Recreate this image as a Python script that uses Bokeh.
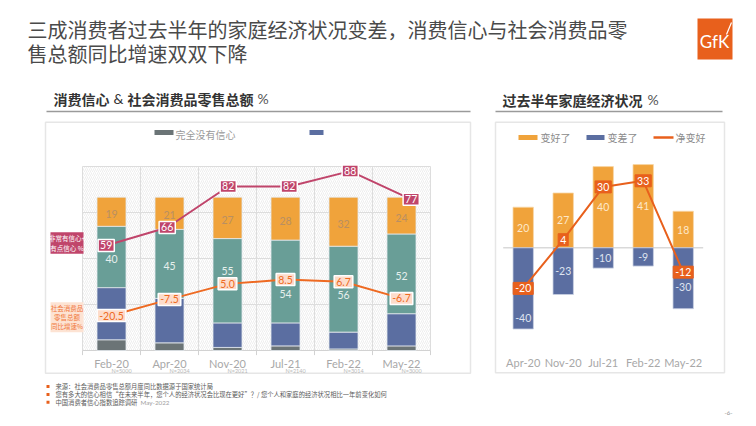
from bokeh.plotting import figure
from bokeh.models import Range1d, ColumnDataSource
from bokeh.core.properties import value
from bokeh.embed import file_html
from bokeh.resources import INLINE

# ---------------- data ----------------
title_lines = ["三成消费者过去半年的家庭经济状况变差，消费信心与社会消费品零",
               "售总额同比增速双双下降"]

left_months = ["Feb-20", "Apr-20", "Nov-20", "Jul-21", "Feb-22", "May-22"]
sample_sizes = ["N=5000", "N=2034", "N=2021", "N=2140", "N=3014", "N=3000"]
no_confidence = [7, 5, 2, 3, 1, 3]          # 完全没有信心
little_confidence = [34, 29, 16, 15, 11, 21]  # 不太有信心
some_confidence = [40, 45, 55, 54, 56, 52]    # 有点信心
very_confidence = [19, 21, 27, 28, 32, 24]    # 非常有信心
confidence_total = [59, 66, 82, 82, 88, 77]   # 非常有信心+有点信心 %
retail_growth = [-20.5, -7.5, 5.0, 8.5, 6.7, -6.7]  # 社会消费品零售总额同比增速 %
left_grid_ticks = [30, 60, 90, 120]

right_months = ["Apr-20", "Nov-20", "Jul-21", "Feb-22", "May-22"]
got_better = [20, 27, 40, 41, 18]
got_worse = [-40, -23, -10, -9, -30]
net_better = [-20, 4, 30, 33, -12]

footnotes = ["来源：社会消费品零售总额月度同比数据源于国家统计局",
             "您有多大的信心相信“在未来半年，您个人的经济状况会比现在更好”？/ 您个人和家庭的经济状况相比一年前变化如何",
             "中国消费者信心指数追踪调研"]

# ---------------- style ----------------
CJK = "Noto Sans CJK SC"
LAT = "Lato"
GREY_BAR = "#6b7476"
BLUE = "#5b6ea1"
TEAL = "#699e97"
ORANGE = "#f0a33b"
PINK = "#c0456b"
ORG_LINE = "#ee6a22"
GFK = "#e8601c"
AXIS_TXT = "#a8a8a8"

# teal / blue label nudges (screen px)
teal_nudge = [2, 2, -10, 12, 6, 2]
worse_nudge = [30, 0, 0, 0, 9]

W, H = 756, 426
p = figure(width=W, height=H, x_range=Range1d(0, W), y_range=Range1d(H, 0),
           x_axis_location=None, y_axis_location=None, toolbar_location=None,
           output_backend="svg", min_border=0)
p.xgrid.grid_line_color = None
p.ygrid.grid_line_color = None
p.outline_line_color = None
p.background_fill_color = "white"
p.border_fill_color = "white"


def span_range(d0, d1, p0, p1, lo, hi):
    k = (d1 - d0) / (p1 - p0)
    return Range1d(start=d0 + (lo - p0) * k, end=d0 + (hi - p0) * k)


def xr(d0, d1, p0, p1):
    return span_range(d0, d1, p0, p1, 0, W)


def yr(d0, d1, p0, p1):
    return span_range(d0, d1, p0, p1, H, 0)


p.extra_x_ranges = {"lx": xr(0, 6, 82, 430),
                    "lp": xr(0, 5, 105.7, 410.7),
                    "rx": xr(0, 5, 502.7, 702.7)}
p.extra_y_ranges = {"ly": yr(0, 120, 350, 166),
                    "lpk": yr(18, 89.8, 350, 166),
                    "lrt": yr(-48.7, 99.6, 350, 166),
                    "ry": yr(0, 10, 247.3, 227.0)}


def T(x, y, text, size, color, font=CJK, align="left", baseline="middle",
      style="normal", xn="default", yn="default", **kw):
    src = ColumnDataSource(dict(x=list(x), y=list(y), t=list(text)))
    return p.text(x="x", y="y", text="t", source=src, text_font=value(font),
                  text_font_size=f"{size}px", text_color=color, text_align=align,
                  text_baseline=baseline, text_font_style=style,
                  x_range_name=xn, y_range_name=yn, **kw)


# ---------------- header ----------------
T([27], [29], [title_lines[0]], 20, "#4a4a4a")
T([27], [53], [title_lines[1]], 20, "#4a4a4a")
p.quad(left=[697], right=[732], top=[18], bottom=[59], fill_color=GFK, line_color=None)
T([714], [41], ["GfK"], 17, "white", font=LAT, align="center")
p.segment(x0=[726], x1=[731], y0=[34], y1=[22], line_color="white", line_width=1.2)

# ---------------- panel frames ----------------
p.quad(left=[45], right=[470], top=[121.7], bottom=[372.7], fill_color="white",
       line_color="#e6e6e6", line_width=1.5)
p.quad(left=[495], right=[724], top=[121.7], bottom=[372.3], fill_color="white",
       line_color="#e6e6e6", line_width=1.5)
p.segment(x0=[46, 495], x1=[470, 722], y0=[111, 111], y1=[111, 111],
          line_color="#9a9a9a", line_width=1.5)
HEAD = "#333333"
T([53], [98], ["消费信心"], 14, HEAD, style="bold")
T([113], [98], ["&"], 14, HEAD, font=LAT)
T([127], [98], ["社会消费品零售总额"], 14, HEAD, style="bold")
T([257], [98], ["%"], 14, "#555555", font=LAT)
T([502], [99], ["过去半年家庭经济状况"], 14, HEAD, style="bold")
T([647], [99], ["%"], 14, "#555555", font=LAT)

# ---------------- left chart ----------------
p.quad(left=[0], right=[6], bottom=[0], top=[120], x_range_name="lx", y_range_name="ly",
       fill_color="white", line_color=None, hatch_pattern="/", hatch_color="#e2e2e2",
       hatch_scale=4, hatch_weight=0.6)
xs = list(range(len(left_months) + 1))
p.segment(x0=xs, x1=xs, y0=[0] * len(xs), y1=[120] * len(xs), x_range_name="lx",
          y_range_name="ly", line_color="#dddddd", line_width=1)
p.segment(x0=[0] * 4, x1=[6] * 4, y0=left_grid_ticks, y1=left_grid_ticks, x_range_name="lx",
          y_range_name="ly", line_color="#dddddd", line_width=1)
p.segment(x0=[0], x1=[6], y0=[0], y1=[0], x_range_name="lx", y_range_name="ly",
          line_color="#d2d2d2", line_width=1.2)
p.segment(x0=xs, x1=xs, y0=[0] * len(xs), y1=[-3] * len(xs), x_range_name="lx",
          y_range_name="ly", line_color="#d2d2d2", line_width=1)

lsrc = ColumnDataSource(dict(x=[i + 0.5 for i in range(len(left_months))],
                             no=no_confidence, little=little_confidence,
                             some=some_confidence, very=very_confidence))
p.vbar_stack(["no", "little", "some", "very"], x="x", width=0.5, source=lsrc,
             fill_color=[GREY_BAR, BLUE, TEAL, ORANGE], line_color="#e3e8ee",
             line_width=0.8, x_range_name="lx", y_range_name="ly")

cx = [i + 0.5 for i in range(len(left_months))]
base_some = [a + b for a, b in zip(no_confidence, little_confidence)]
teal_mid = [b + s / 2 for b, s in zip(base_some, some_confidence)]
orange_mid = [b + s + v / 2 for b, s, v in zip(base_some, some_confidence, very_confidence)]
T(cx, orange_mid, [str(v) for v in very_confidence], 10.5, "#b98f62", font=LAT,
  align="center", xn="lx", yn="ly", y_offset=2)
src_t = ColumnDataSource(dict(x=cx, y=teal_mid, t=[str(v) for v in some_confidence], dy=teal_nudge))
p.text(x="x", y="y", text="t", y_offset="dy", source=src_t, text_font=value(LAT),
       text_font_size="10.5px", text_color="#e6efed", text_align="center",
       text_baseline="middle", x_range_name="lx", y_range_name="ly")

# pink confidence line
p.line(x=list(range(len(confidence_total))), y=confidence_total, x_range_name="lp",
       y_range_name="lpk", line_color=PINK, line_width=2)
T(list(range(len(confidence_total))), confidence_total, [str(v) for v in confidence_total],
  10.5, "white", font=LAT, align="center", xn="lp", yn="lpk",
  background_fill_color=PINK, border_line_color="white", border_line_width=1.5, padding=2)

# retail growth line
p.line(x=cx, y=retail_growth, x_range_name="lx", y_range_name="lrt",
       line_color=ORG_LINE, line_width=2)
T(cx, retail_growth, [f"{v:.1f}" for v in retail_growth], 10.5, ORG_LINE, font=LAT,
  align="center", xn="lx", yn="lrt", background_fill_color="#fddccb",
  border_line_color="white", border_line_width=1.5, padding=2)

# side tags
p.quad(left=[50], right=[83], top=[231.7], bottom=[253.3], fill_color=PINK, line_color=None)
T([66.5, 66.5], [237.5, 247.5], ["非常有信心+", "有点信心 %"], 6.5, "white", align="center")
p.quad(left=[50], right=[83], top=[301.7], bottom=[331.7], fill_color="#fde3d3", line_color=None)
T([66.5, 66.5, 66.5], [307.5, 316.5, 325.5], ["社会消费品", "零售总额", "同比增速%"], 6.5,
  "#f0763a", align="center")

# legend
p.quad(left=[154], right=[173], top=[129.5], bottom=[134.5], fill_color=GREY_BAR, line_color=None)
T([175], [133.5], ["完全没有信心"], 10, "#9a9a9a")
p.quad(left=[309], right=[323], top=[129.5], bottom=[134.5], fill_color=BLUE, line_color=None)

# category labels
T(cx, [363] * len(cx), left_months, 11, AXIS_TXT, font=LAT, align="center", xn="lx")
T(cx, [370] * len(cx), sample_sizes, 5.5, "#b8b8b8", font=LAT, align="left", xn="lx")

# ---------------- right chart ----------------
rx = [i + 0.5 for i in range(len(right_months))]
p.segment(x0=[0], x1=[5], y0=[0], y1=[0], x_range_name="rx", y_range_name="ry",
          line_color="#d9d9d9", line_width=1.5)
p.vbar(x=rx, top=got_better, bottom=0, width=0.51, fill_color=ORANGE, line_color="#f7d7a6",
       line_width=0.8, x_range_name="rx", y_range_name="ry")
p.vbar(x=rx, top=0, bottom=got_worse, width=0.51, fill_color=BLUE, line_color="#c9d0e2",
       line_width=0.8, x_range_name="rx", y_range_name="ry")
T(rx, [v / 2 for v in got_better], [str(v) for v in got_better], 10.5, "#fde8c9",
  font=LAT, align="center", xn="rx", yn="ry")
src_w = ColumnDataSource(dict(x=rx, y=[v / 2 for v in got_worse],
                              t=[str(v) for v in got_worse], dy=worse_nudge))
p.text(x="x", y="y", text="t", y_offset="dy", source=src_w, text_font=value(LAT),
       text_font_size="10.5px", text_color="#dfe4f0", text_align="center",
       text_baseline="middle", x_range_name="rx", y_range_name="ry")
p.line(x=rx, y=net_better, x_range_name="rx", y_range_name="ry", line_color=GFK, line_width=2)
T(rx, net_better, [str(v) for v in net_better], 10.5, "white", font=LAT, align="center",
  xn="rx", yn="ry", background_fill_color=GFK, border_line_color=GFK, padding=2)
T(rx, [362] * len(rx), right_months, 11, AXIS_TXT, font=LAT, align="center", xn="rx")

# right legend
p.quad(left=[518], right=[537], top=[134.5], bottom=[139.5], fill_color=ORANGE, line_color=None)
T([540], [137], ["变好了"], 10, "#8c8c8c")
p.quad(left=[586], right=[604], top=[134.5], bottom=[139.5], fill_color=BLUE, line_color=None)
T([607], [137], ["变差了"], 10, "#8c8c8c")
p.segment(x0=[653], x1=[673], y0=[137], y1=[137], line_color=GFK, line_width=2.5)
T([675], [137], ["净变好"], 10, "#8c8c8c")

# ---------------- footnotes ----------------
fy = [386, 394, 401.7]
p.quad(left=[46] * 3, right=[49] * 3, top=[y - 1.5 for y in fy], bottom=[y + 1.5 for y in fy],
       fill_color=GFK, line_color=None)
T([55] * 3, fy, footnotes, 6.3, "#5a5a5a")
T([140], [401.7], ["May-2022"], 6.3, "#a0a0a0", font=LAT)
T([728], [412], ["-6-"], 6, "#8c8c8c", font=LAT, align="center")

open("out.html", "w").write(file_html(p, INLINE))
